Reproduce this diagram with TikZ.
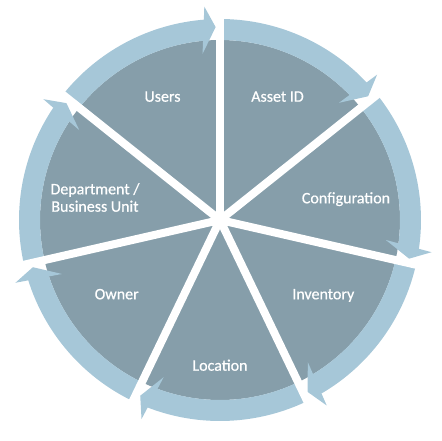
\documentclass[tikz,border=0pt]{standalone}
\usepackage{fontspec}
\setmainfont{Carlito}
\newfontfamily\lblfont{Carlito}[FakeBold=0.6]
\definecolor{wedgecol}{RGB}{134,158,170}
\definecolor{bandcol}{RGB}{166,199,216}
\begin{document}
\begin{tikzpicture}[x=1pt,y=1pt,
  lbl/.style={text=white,font=\lblfont\fontsize{16}{17.4}\selectfont,align=center,anchor=base,inner sep=0pt},
  gapline/.style={white,line width=8pt},
  bandfill/.style={fill=bandcol},
]
\useasboundingbox (-220,-220) rectangle (222,220);
\fill[wedgecol] (0,0) circle (180);
\foreach \k in {0,...,6}{
  \pgfmathsetmacro{\s}{90-\k*360/7}
  \pgfmathsetmacro{\e}{\s-360/7}
  \pgfmathsetmacro{\b}{\e+4.5}
  \path[bandfill] (\s:201) arc[start angle=\s,end angle=\b,radius=201] -- (\b:180) arc[start angle=\b,end angle=\s,radius=180] -- cycle;
  \path[bandfill] (\e+4.2:214) -- (\e+1.3:193) -- (\e+6:167) -- cycle;
}
\foreach \k in {0,...,6}{
  \draw[gapline] (0,0) -- ({90-\k*360/7}:217);
}
\node[lbl] (users) at (-57.5,118.3) {Users};
\node[lbl] (asset) at (57.5,118.3) {Asset ID};
\node[lbl] (config) at (126,16.7) {Configuration};
\node[lbl] (inventory) at (103.3,-79.3) {Inventory};
\node[lbl] (location) at (0,-150.7) {Location};
\node[lbl] (owner) at (-103.3,-79.3) {Owner};
\node[lbl] (dept) at (-125,8.3) {Department /\\Business Unit};
\end{tikzpicture}
\end{document}
